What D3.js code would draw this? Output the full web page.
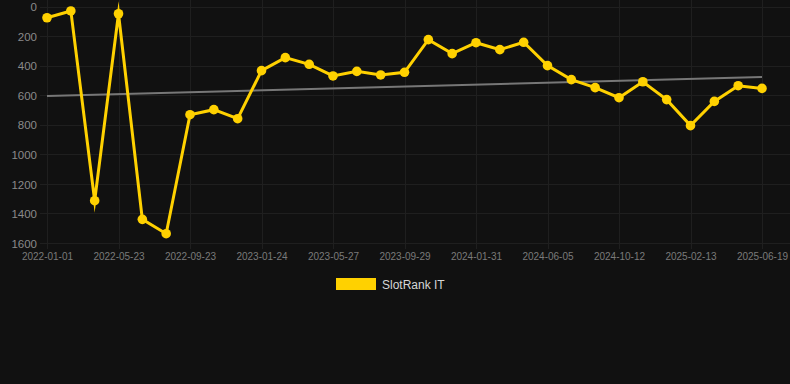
<!DOCTYPE html>
<html>
<head>
<meta charset="utf-8">
<script src="https://cdn.jsdelivr.net/npm/d3@7"></script>
<style>
  html, body { margin: 0; padding: 0; background: #111111; }
  #chart { width: 790px; height: 384px; }
  text { font-family: "Liberation Sans", Arial, sans-serif; }
</style>
</head>
<body>
<div id="chart"></div>
<script>
// Dates of each ranking snapshot (labels shown every third point)
const dates = [
  "2022-01-01", "2022-02-17", "2022-04-05", "2022-05-23", "2022-07-03", "2022-08-13",
  "2022-09-23", "2022-11-03", "2022-12-14", "2023-01-24", "2023-03-06", "2023-04-16",
  "2023-05-27", "2023-07-08", "2023-08-18", "2023-09-29", "2023-11-09", "2023-12-20",
  "2024-01-31", "2024-03-12", "2024-04-24", "2024-06-05", "2024-07-17", "2024-08-31",
  "2024-10-12", "2024-11-22", "2025-01-02", "2025-02-13", "2025-03-27", "2025-05-08",
  "2025-06-19"
];
const tickLabels = [
  "2022-01-01", "2022-05-23", "2022-09-23", "2023-01-24", "2023-05-27", "2023-09-29",
  "2024-01-31", "2024-06-05", "2024-10-12", "2025-02-13", "2025-06-19"
];
const rank = [
  76, 30, 1314, 49, 1440, 1537, 732, 698, 759, 434,
  346, 391, 470, 439, 463, 445, 224, 319, 245, 292,
  242, 400, 495, 549, 617, 509, 630, 806, 642, 536,
  554
];
const trend = [605, 477];   // trend line at first and last date
const yTicks = [0, 200, 400, 600, 800, 1000, 1200, 1400, 1600];
const seriesName = "SlotRank IT";

const W = 790, H = 384;
const margin = { top: 6.5, right: 28, bottom: 141, left: 47 };
const gold = "#FFD100";

const svg = d3.select("#chart").append("svg")
  .attr("width", W)
  .attr("height", H);

const x = d3.scalePoint()
  .domain(dates)
  .range([margin.left, W - margin.right]);

const y = d3.scaleLinear()
  .domain([0, 1600])
  .range([margin.top, H - margin.bottom]);

// grid
const grid = svg.append("g").attr("stroke", "#1f1f1f").attr("stroke-width", 1);
grid.selectAll(".hy").data(yTicks).join("line")
  .attr("x1", 40).attr("x2", W)
  .attr("y1", d => Math.round(y(d)) + 0.5).attr("y2", d => Math.round(y(d)) + 0.5);
grid.selectAll(".vx").data(tickLabels).join("line")
  .attr("x1", d => Math.round(x(d)) + 0.5).attr("x2", d => Math.round(x(d)) + 0.5)
  .attr("y1", 0).attr("y2", y(1600) + 6);

// y axis
const yAxis = svg.append("g")
  .attr("transform", "translate(" + 37 + ",0)")
  .call(d3.axisLeft(y).tickValues(yTicks).tickFormat(d3.format("d")).tickSize(0).tickPadding(0));
yAxis.select(".domain").remove();
yAxis.selectAll("text")
  .attr("fill", "#8a8a8a")
  .style("font-size", "11.5px")
  .attr("dy", "0.36em");

// x axis
const xAxis = svg.append("g")
  .attr("transform", "translate(0," + (y(1600) + 6) + ")")
  .call(d3.axisBottom(x).tickValues(tickLabels).tickSize(0).tickPadding(4));
xAxis.select(".domain").remove();
xAxis.selectAll("text")
  .attr("fill", "#7a7a7a")
  .style("font-size", "10px");

// trend line
svg.append("line")
  .attr("x1", x(dates[0])).attr("y1", y(trend[0]))
  .attr("x2", x(dates[dates.length - 1])).attr("y2", y(trend[1]))
  .attr("stroke", "#777777")
  .attr("stroke-width", 2);

// series line
svg.append("path")
  .datum(rank)
  .attr("fill", "none")
  .attr("stroke", gold)
  .attr("stroke-width", 3)
  .attr("stroke-miterlimit", 10)
  .attr("d", d3.line()
    .x((d, i) => x(dates[i]))
    .y(d => y(d)));

svg.append("g").selectAll("circle").data(rank).join("circle")
  .attr("cx", (d, i) => x(dates[i]))
  .attr("cy", d => y(d))
  .attr("r", 4.8)
  .attr("fill", gold);

// legend
const legend = svg.append("g").attr("transform", "translate(336,278)");
legend.append("rect")
  .attr("width", 40).attr("height", 12)
  .attr("fill", gold);
legend.append("text")
  .attr("x", 46).attr("y", 10.5)
  .attr("fill", "#d6d6d6")
  .style("font-size", "12px")
  .text(seriesName);
</script>
</body>
</html>
